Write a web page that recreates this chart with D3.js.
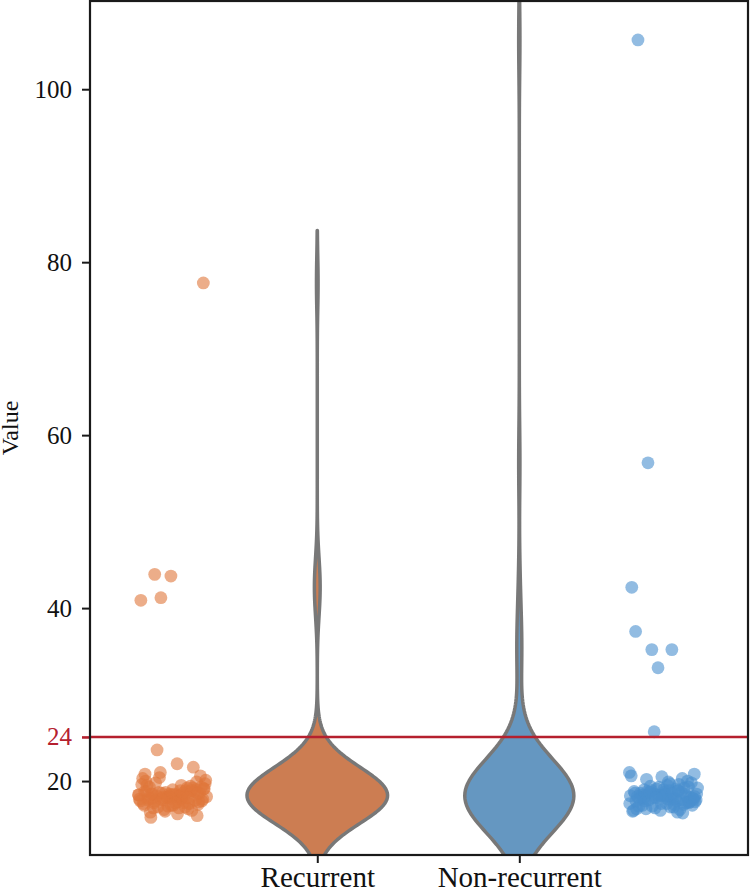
<!DOCTYPE html>
<html>
<head>
<meta charset="utf-8">
<title>Value</title>
<script src="https://cdn.jsdelivr.net/npm/d3@7"></script>
<style>
  body{margin:0;background:#fff;}
  text{font-family:"Liberation Serif","Times New Roman",serif;}
</style>
</head>
<body>
<script>
// data
var groups = ["Recurrent", "Non-recurrent"];
var recurrent = [18.4, 17.9, 43.9, 16.0, 43.7, 18.8, 19.2, 41.2, 77.6, 22.0,
  15.8, 21.6, 18.1, 40.9, 17.5, 23.6,
  18.6, 17.2, 19.5, 18.0, 17.8, 20.1, 18.3, 16.9, 19.0, 18.5,
  17.4, 18.9, 20.4, 17.7, 18.2, 19.3, 16.6, 18.7, 17.9, 18.1,
  19.8, 17.3, 18.4, 20.0, 16.8, 18.6, 19.1, 17.6, 18.0, 18.8,
  17.1, 19.6, 18.3, 17.0, 20.6, 18.5, 17.8, 19.4, 16.7, 18.2,
  18.9, 17.5, 19.9, 18.0, 17.2, 18.7, 21.0, 17.9, 18.4, 16.4,
  19.2, 18.1, 17.7, 18.6,
  18.3, 17.6, 19.0, 18.8, 17.4, 18.1, 19.7, 16.9, 18.5, 17.8,
  18.2, 20.3, 17.0, 18.7, 19.3, 17.5, 18.0, 18.9, 16.5, 18.4,
  19.5, 17.7, 18.6, 17.2, 20.8, 18.1, 17.9, 19.1, 16.2, 18.5];
var nonRecurrent = [21.0, 35.2, 18.3, 17.6, 20.5, 37.3, 18.9, 35.2, 20.8, 17.9,
  18.4, 19.2, 33.1, 42.4, 17.3, 56.8, 18.1, 18.7, 105.7, 17.8, 25.7,
  18.5, 17.0, 19.0, 18.2, 16.6, 18.8, 17.7, 19.4, 18.0, 17.4,
  18.6, 16.3, 19.1, 18.3, 17.9, 20.2, 17.5, 18.4, 16.8, 19.6,
  18.1, 17.6, 18.9, 17.2, 18.5, 19.3, 16.5, 18.0, 17.8, 19.8,
  18.3, 17.1, 18.7, 16.9, 19.2, 18.2, 17.7, 20.0, 17.4, 18.6,
  16.4, 18.9, 17.9, 19.5, 18.1, 17.3, 18.4, 20.6, 17.0, 18.8,
  17.6, 19.0, 18.2, 16.7, 18.5, 17.8, 19.7, 18.0, 17.5, 18.3,
  16.6, 19.1, 18.7, 17.2, 18.4, 17.9, 20.3, 18.1, 17.4, 18.6,
  16.8, 19.3, 18.0, 17.7, 18.9, 17.1, 18.2, 19.9];
var yTicks = [20, 40, 60, 80, 100];
var threshold = 25.1;
var thresholdLabel = "24";

var width = 750, height = 887;
var mLeft = 90, mRight = 748, mTop = 1, mBottom = 855;

var svg = d3.select("body").append("svg")
    .attr("width", width)
    .attr("height", height);

var x = d3.scaleLinear().domain([-1.125, 2.132]).range([mLeft, mRight]);
var y = d3.scaleLinear().domain([11.45, 110.2]).range([mBottom, mTop]);

var series = [recurrent, nonRecurrent];
var violinPos = [0, 1];
var violinHalf = [0.348, 0.27];   // max half width of each violin, in category units
var stripPos = [-0.715, 1.715];
var fills = ["#cc7d52", "#6597c1"];
var dotColors = ["#e0763a", "#4a8fcf"];

// gaussian kde, scott bandwidth, cut = 2 (like seaborn)
function kde(values) {
    var n = values.length;
    var bw = d3.deviation(values) * Math.pow(n, -0.2);
    var lo = d3.min(values) - 2 * bw, hi = d3.max(values) + 2 * bw;
    var pts = [];
    for (var k = 0; k <= 300; k++) {
        var v = lo + (hi - lo) * k / 300;
        var s = 0;
        values.forEach(function (xi) {
            var z = (v - xi) / bw;
            s += Math.exp(-0.5 * z * z);
        });
        pts.push({v: v, d: s / (n * bw * Math.sqrt(2 * Math.PI))});
    }
    return pts;
}
var dens = series.map(kde);

svg.append("clipPath").attr("id", "plotclip")
    .append("rect")
    .attr("x", mLeft).attr("y", mTop)
    .attr("width", mRight - mLeft).attr("height", mBottom - mTop);

var plot = svg.append("g").attr("clip-path", "url(#plotclip)");

// violins
dens.forEach(function (pts, i) {
    var dmax = d3.max(pts, function (q) { return q.d; });
    var w = d3.scaleLinear().domain([0, dmax]).range([0, violinHalf[i]]);
    var area = d3.area()
        .y(function (d) { return y(d.v); })
        .x0(function (d) { return x(violinPos[i] - w(d.d)); })
        .x1(function (d) { return x(violinPos[i] + w(d.d)); });
    plot.append("path")
        .datum(pts)
        .attr("d", area)
        .attr("fill", fills[i])
        .attr("stroke", "#787878")
        .attr("stroke-width", 3.5)
        .attr("stroke-linejoin", "round");
});

// strip points (deterministic jitter)
function jit(i) { return ((i * 0.618034) % 1 - 0.5) * 0.34; }
series.forEach(function (vals, i) {
    plot.selectAll(null)
        .data(vals)
        .join("circle")
        .attr("cx", function (d, j) { return x(stripPos[i] + jit(j)); })
        .attr("cy", function (d) { return y(d); })
        .attr("r", 6.4)
        .attr("fill", dotColors[i])
        .attr("fill-opacity", 0.6);
});

// threshold line
svg.append("line")
    .attr("x1", mLeft).attr("x2", mRight)
    .attr("y1", y(threshold)).attr("y2", y(threshold))
    .attr("stroke", "#b5202e")
    .attr("stroke-width", 2.6);

// axes
var yAxis = svg.append("g")
    .attr("transform", "translate(" + mLeft + ",0)")
    .call(d3.axisLeft(y)
        .tickValues(yTicks.concat([threshold]))
        .tickSize(8)
        .tickPadding(10)
        .tickFormat(function (d) { return d === threshold ? thresholdLabel : d; }));
yAxis.select(".domain").remove();
yAxis.selectAll(".tick line").attr("stroke", "#1a1a1a").attr("stroke-width", 2);
yAxis.selectAll(".tick text").attr("font-size", 25).attr("fill", "#111")
    .attr("font-family", "Liberation Serif");
yAxis.selectAll(".tick").filter(function (d) { return d === threshold; })
    .call(function (t) {
        t.select("line").attr("stroke", "#b5202e").attr("stroke-width", 2.6);
        t.select("text").attr("fill", "#b5202e");
    });

var xAxis = svg.append("g")
    .attr("transform", "translate(0," + mBottom + ")")
    .call(d3.axisBottom(x)
        .tickValues(violinPos)
        .tickSize(8)
        .tickPadding(3)
        .tickFormat(function (i) { return groups[i]; }));
xAxis.select(".domain").remove();
xAxis.selectAll(".tick line").attr("stroke", "#1a1a1a").attr("stroke-width", 2);
xAxis.selectAll(".tick text").attr("font-size", 29).attr("fill", "#111")
    .attr("font-family", "Liberation Serif");

// frame
svg.append("rect")
    .attr("x", mLeft).attr("y", mTop)
    .attr("width", mRight - mLeft).attr("height", mBottom - mTop)
    .attr("fill", "none")
    .attr("stroke", "#1a1a1a")
    .attr("stroke-width", 2.2);

svg.append("text")
    .attr("transform", "translate(18," + ((mTop + mBottom) / 2) + ") rotate(-90)")
    .attr("text-anchor", "middle")
    .attr("font-size", 24)
    .attr("fill", "#111")
    .text("Value");
</script>
</body>
</html>
